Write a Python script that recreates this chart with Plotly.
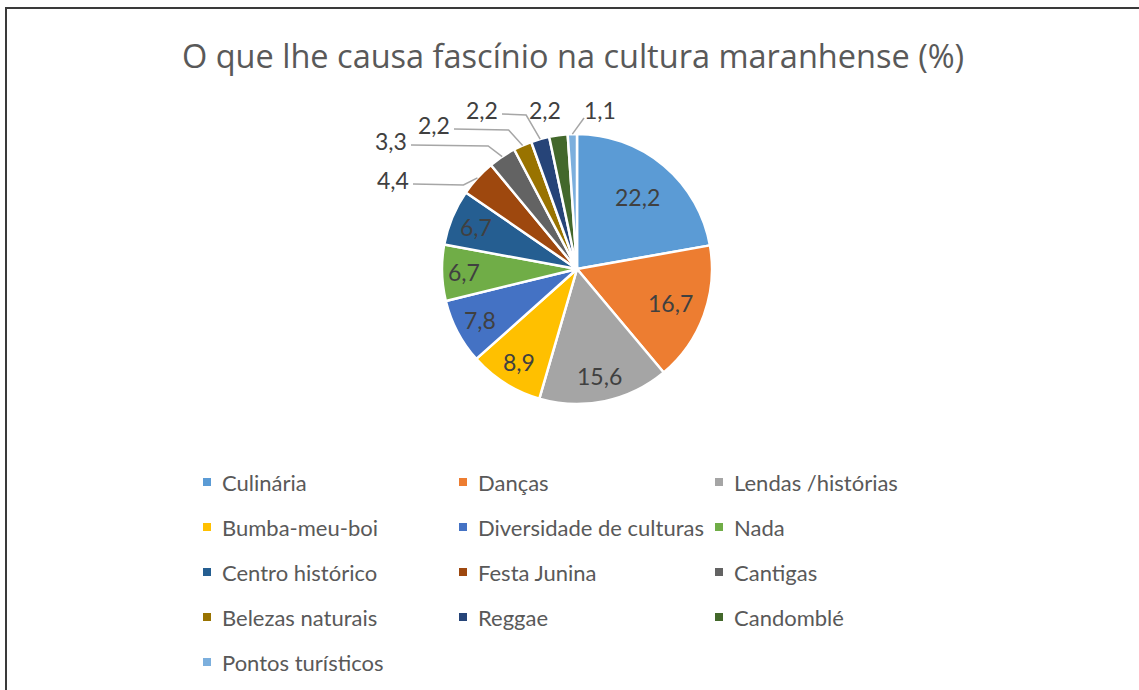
import math
import plotly.graph_objects as go

# ---------------- data ----------------
categories = ["Culinária", "Danças", "Lendas /histórias", "Bumba-meu-boi",
              "Diversidade de culturas", "Nada", "Centro histórico", "Festa Junina",
              "Cantigas", "Belezas naturais", "Reggae", "Candomblé", "Pontos turísticos"]
values = [22.2, 16.7, 15.6, 8.9, 7.8, 6.7, 6.7, 4.4, 3.3, 2.2, 2.2, 2.2, 1.1]
colors = ["#5B9BD5", "#ED7D31", "#A5A5A5", "#FFC000", "#4472C4", "#70AD47",
          "#255E91", "#9E480E", "#636363", "#997300", "#264478", "#43682B", "#7CAFDD"]
title_text = "O que lhe causa fascínio na cultura maranhense (%)"

# ---------------- layout constants (pixels) ----------------
W, H = 1139, 690
CX, CY, R = 577, 269, 135
FONT = "Lato"
TXT = "#404040"
LEG = "#595959"
# radial position of inside labels (fraction of radius)
inside_r = [0.70, 0.74, 0.81, 0.81, 0.81, 0.84, 0.81]
# outside label centres (pixels) for small slices
outside_pos = {7: (393, 180), 8: (391, 141), 9: (434, 125),
               10: (482, 110), 11: (545, 110), 12: (600, 110)}
leg_cols_x = [207, 463, 719]
leg_row0, leg_dy = 482, 45


def px(x):
    return x / W


def py(y):
    return 1 - y / H


def fmt(v):
    return f"{v:.1f}".replace(".", ",")


fig = go.Figure(go.Pie(
    labels=categories, values=values, sort=False, direction="clockwise",
    rotation=0, textinfo="none", hoverinfo="label+value",
    marker=dict(colors=colors, line=dict(color="white", width=2.5)),
    domain=dict(x=[px(CX - R), px(CX + R)], y=[py(CY + R), py(CY - R)]),
    showlegend=False,
))

annotations = []
shapes = []
total = sum(values)
cum = 0.0
for i, v in enumerate(values):
    mid = (cum + v / 2) / total
    cum += v
    th = 2 * math.pi * mid
    sx, sy = math.sin(th), -math.cos(th)
    if i < len(inside_r):
        rr = inside_r[i] * R
        annotations.append(dict(x=px(CX + rr * sx), y=py(CY + rr * sy), xref="paper", yref="paper",
                                text=fmt(v), showarrow=False, xanchor="center", yanchor="middle",
                                font=dict(family=FONT, size=23, color=TXT)))
    else:
        lx, ly = outside_pos[i]
        annotations.append(dict(x=px(lx), y=py(ly), xref="paper", yref="paper",
                                text=fmt(v), showarrow=False, xanchor="center", yanchor="middle",
                                font=dict(family=FONT, size=23, color=TXT)))
        ex, ey = CX + R * sx, CY + R * sy
        if i == 11:
            continue
        if i == 12:
            path = f"M {px(lx - 16)},{py(ly + 8)} L {px(ex)},{py(ey)}"
        else:
            sx0, sy0 = lx + 20, ly + 4
            bx = ex - 14
            path = f"M {px(sx0)},{py(sy0)} L {px(bx)},{py(sy0 + 1)} L {px(ex)},{py(ey)}"
        shapes.append(dict(type="path", xref="paper", yref="paper", path=path,
                           line=dict(color="#A6A6A6", width=1.5)))

# manual legend (3 columns)
for i, (name, c) in enumerate(zip(categories, colors)):
    col, row = i % 3, i // 3
    x0 = leg_cols_x[col]
    yc = leg_row0 + row * leg_dy
    shapes.append(dict(type="rect", xref="paper", yref="paper",
                       x0=px(x0 - 4), x1=px(x0 + 4), y0=py(yc + 4), y1=py(yc - 4),
                       fillcolor=c, line=dict(width=0)))
    annotations.append(dict(x=px(x0 + 13), y=py(yc), xref="paper", yref="paper",
                            text=name, showarrow=False, xanchor="left", yanchor="middle",
                            font=dict(family=FONT, size=22, color=LEG)))

# outer border
shapes.append(dict(type="rect", xref="paper", yref="paper",
                   x0=px(6), x1=px(W + 10), y0=py(H + 10), y1=py(8),
                   line=dict(color="#3A3A3A", width=2), fillcolor="rgba(0,0,0,0)"))

annotations.append(dict(x=px(573), y=py(55), xref="paper", yref="paper", text=title_text,
                        showarrow=False, xanchor="center", yanchor="middle",
                        font=dict(family="Open Sans", size=32.5, color=LEG)))

fig.update_layout(width=W, height=H, margin=dict(l=0, r=0, t=0, b=0),
                  paper_bgcolor="white", plot_bgcolor="white",
                  annotations=annotations, shapes=shapes)
fig.write_html("out.html")
